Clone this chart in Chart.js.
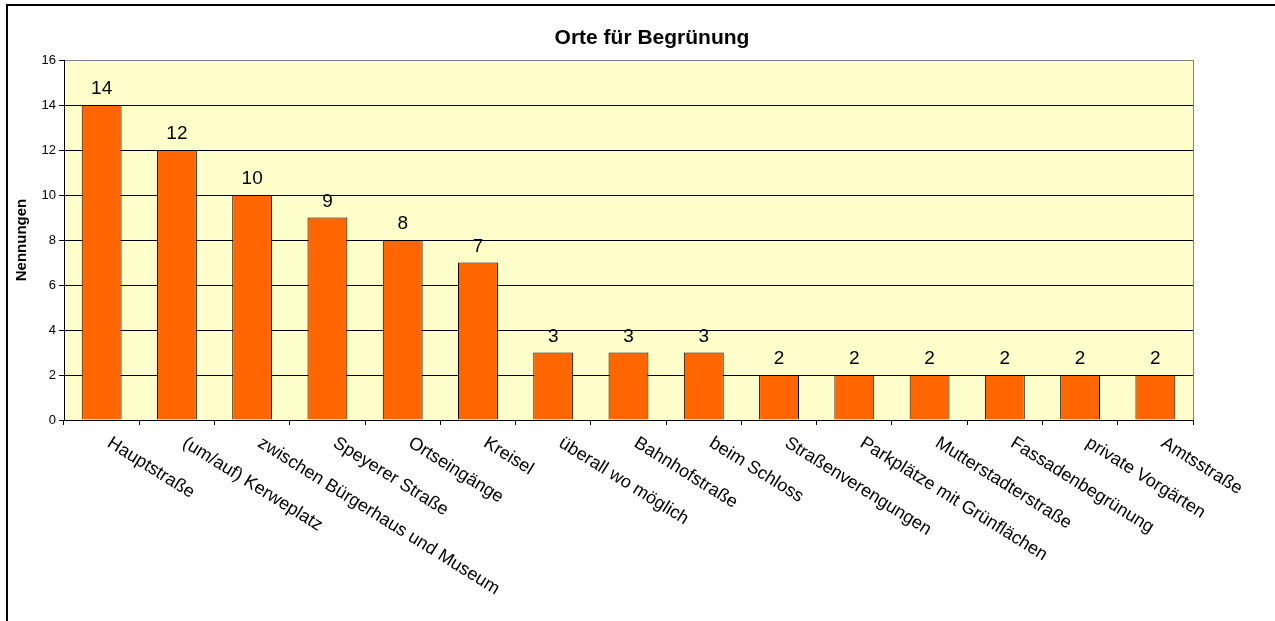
<!DOCTYPE html>
<html>
<head>
<meta charset="utf-8">
<script src="https://cdn.jsdelivr.net/npm/chart.js@4/dist/chart.umd.min.js"></script>
<style>
html,body{margin:0;padding:0;background:#fff;}
#wrap{width:1275px;height:621px;position:relative;}
</style>
</head>
<body>
<div id="wrap"><canvas id="c" width="1275" height="621"></canvas></div>
<script>
const categories = ["Hauptstraße","(um/auf) Kerweplatz","zwischen Bürgerhaus und Museum","Speyerer Straße","Ortseingänge","Kreisel","überall wo möglich","Bahnhofstraße","beim Schloss","Straßenverengungen","Parkplätze mit Grünflächen","Mutterstadterstraße","Fassadenbegrünung","private Vorgärten","Amtsstraße"];
const values = [14,12,10,9,8,7,3,3,3,2,2,2,2,2,2];
const yTicks = [0,2,4,6,8,10,12,14,16];
const chartTitle = "Orte für Begrünung";
const yTitle = "Nennungen";
const FONT = "'Liberation Sans', Arial, sans-serif";

const bgPlugin = {
  id: 'bg',
  beforeDraw(chart) {
    const {ctx, chartArea: a} = chart;
    ctx.save();
    ctx.fillStyle = '#FFFFCC';
    ctx.fillRect(a.left, a.top, a.right - a.left, a.bottom - a.top);
    ctx.restore();
  },
  afterDraw(chart) {
    const {ctx, chartArea: a} = chart;
    ctx.save();
    ctx.strokeStyle = '#808080';
    ctx.lineWidth = 1;
    ctx.beginPath();
    ctx.moveTo(Math.round(a.right) + 0.5, a.top);
    ctx.lineTo(Math.round(a.right) + 0.5, a.bottom);
    ctx.stroke();
    ctx.strokeStyle = '#000';
    ctx.lineWidth = 2;
    ctx.beginPath();
    ctx.moveTo(1300, 5);
    ctx.lineTo(7, 5);
    ctx.lineTo(7, 700);
    ctx.stroke();
    // title
    ctx.fillStyle = '#000';
    ctx.font = "bold 21px " + FONT;
    ctx.textAlign = 'center';
    ctx.textBaseline = 'alphabetic';
    ctx.fillText(chartTitle, 652, 44);
    ctx.restore();
  }
};

const labelPlugin = {
  id: 'labels',
  afterDatasetsDraw(chart) {
    const {ctx} = chart;
    const xs = chart.scales.x;
    const meta = chart.getDatasetMeta(0);
    ctx.save();
    ctx.fillStyle = '#000';
    ctx.font = "19px " + FONT;
    ctx.textAlign = 'center';
    ctx.textBaseline = 'alphabetic';
    meta.data.forEach((bar, i) => {
      ctx.fillText(String(values[i]), bar.x, bar.y - 11);
    });
    ctx.font = "18px " + FONT;
    ctx.textAlign = 'left';
    ctx.textBaseline = 'top';
    categories.forEach((c, i) => {
      const x = xs.getPixelForValue(i);
      ctx.save();
      ctx.translate(x + 12, 434);
      ctx.rotate(32 * Math.PI / 180);
      ctx.fillText(c, 0, 0);
      ctx.restore();
    });
    ctx.restore();
  }
};

new Chart(document.getElementById('c'), {
  type: 'bar',
  data: {
    labels: categories,
    datasets: [{
      data: values,
      backgroundColor: '#FF6600',
      borderColor: '#000',
      borderWidth: 1,
      barPercentage: 0.53,
      categoryPercentage: 1.0
    }]
  },
  options: {
    responsive: false,
    animation: false,
    layout: { padding: { left: 8, right: 82, top: 60, bottom: 0 } },
    plugins: {
      legend: { display: false },
      tooltip: { enabled: false },
      title: { display: false }
    },
    scales: {
      x: {
        offset: true,
        grid: { display: true, drawOnChartArea: false, offset: true, drawTicks: true, tickLength: 5, tickColor: '#000' },
        border: { color: '#000', width: 1 },
        ticks: { display: false },
        afterFit(s) { s.height = 201; }
      },
      y: {
        min: 0,
        max: 16,
        afterBuildTicks(s) { s.ticks = yTicks.map(v => ({value: v})); },
        grid: {
          color: ctx => (ctx.tick && ctx.tick.value === 16) ? '#808080' : '#000',
          tickColor: '#000',
          tickLength: 5,
          lineWidth: 1
        },
        border: { color: '#000', width: 1 },
        ticks: { color: '#000', font: { family: FONT, size: 13 }, padding: 3 },
        title: {
          display: true,
          text: yTitle,
          color: '#000',
          font: { family: FONT, size: 15, weight: 'bold' },
          padding: { top: 5, bottom: 0 }
        },
        afterFit(s) { s.width = 56; }
      }
    }
  },
  plugins: [bgPlugin, labelPlugin]
});
</script>
</body>
</html>
